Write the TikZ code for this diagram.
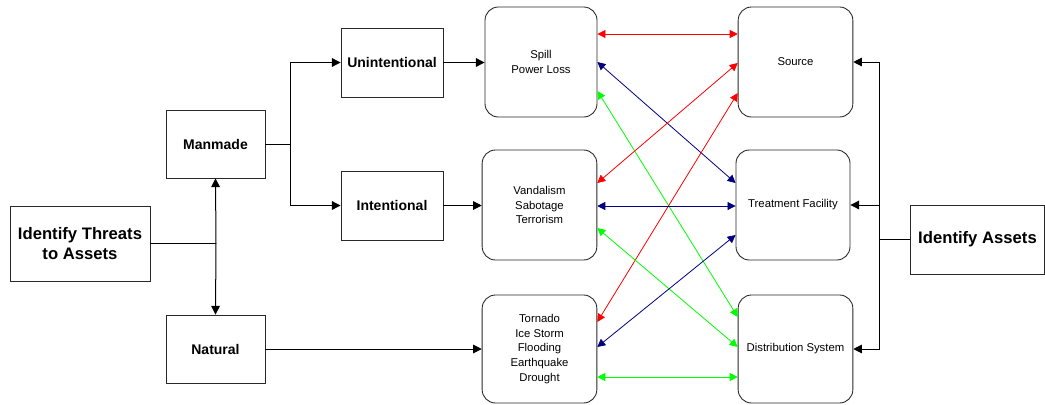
\documentclass[tikz,border=0pt]{standalone}
\usepackage{fontspec}
\setmainfont{Liberation Sans}
\usetikzlibrary{arrows.meta,calc}
\definecolor{cred}{RGB}{255,0,0}
\definecolor{cblue}{RGB}{0,0,128}
\definecolor{cgreen}{RGB}{0,255,0}
\definecolor{edge}{RGB}{40,40,40}
\begin{document}
\begin{tikzpicture}[x=0.75pt,y=-0.75pt,
  sbox/.style={draw=edge, line width=0.65pt, fill=white, inner sep=1pt, align=center, font=\bfseries\fontsize{10.5}{12}\selectfont},
  bigbox/.style={sbox, font=\bfseries\fontsize{12.5}{15}\selectfont},
  rbox/.style={draw=edge, line width=0.65pt, rounded corners=10pt, align=center, font=\fontsize{8.5}{11}\selectfont, minimum width=86pt, minimum height=82.5pt},
  conn/.style={line width=0.75pt, -{Triangle[length=6.5pt,width=6.5pt]}},
  plain/.style={line width=0.75pt},
  dbl/.style={line width=0.6pt, {Triangle[length=6pt,width=6pt]}-{Triangle[length=6pt,width=6pt]}},
]
\useasboundingbox (0,0) rectangle (1045,404);
% left side boxes
\node[bigbox, minimum width=105pt, minimum height=56.25pt] (threats) at (80,243.5) {Identify Threats\\to Assets};
\node[sbox, minimum width=74.25pt, minimum height=51pt] (manmade) at (215.5,144) {Manmade};
\node[sbox, minimum width=74.25pt, minimum height=51pt] (natural) at (215.5,349) {Natural};
\node[sbox, minimum width=76.5pt, minimum height=51.75pt] (unint) at (392,62.5) {Unintentional};
\node[sbox, minimum width=76.5pt, minimum height=51.75pt] (intent) at (392,205.5) {Intentional};
% threat rounded boxes
\node[rbox, minimum width=84pt] (spill) at (541,62) {Spill\\Power Loss};
\node[rbox] (vand) at (539.5,205) {Vandalism\\Sabotage\\Terrorism};
\node[rbox, minimum height=81pt] (torn) at (539.5,349) {Tornado\\Ice Storm\\Flooding\\Earthquake\\Drought};
% asset rounded boxes
\node[rbox] (source) at (795.5,62) {Source};
\node[rbox, minimum width=85.5pt] (treat) at (793,205) {Treatment Facility};
\node[rbox, minimum height=81pt] (dist) at (795.5,349) {Distribution System};
\node[bigbox, minimum width=100pt, minimum height=51.75pt] (assets) at (977.5,239.5) {Identify Assets};
% junction coordinates
\coordinate (j1) at (216,243.5);
\coordinate (j2) at (290,144);
\coordinate (j3) at (879,239.5);
% left connectors
\draw[plain] (threats.east) -- (j1);
\draw[conn] (j1) -- (manmade.south);
\draw[conn] (j1) -- (natural.north);
\draw[plain] (manmade.east) -- (j2);
\draw[conn] (j2) |- (unint.west);
\draw[conn] (j2) |- (intent.west);
\draw[conn] (unint.east) -- (unint.east -| spill.west);
\draw[conn] (intent.east) -- (intent.east -| vand.west);
\draw[conn] (natural.east) -- (natural.east -| torn.west);
% right connectors
\draw[plain] (assets.west) -- (j3);
\draw[conn] (j3) |- (source.east);
\draw[conn] (j3) |- (treat.east);
\draw[conn] (j3) |- (dist.east);
% coloured links
\draw[dbl, cred] ($(spill.east)+(0,-28)$) -- ($(source.west)+(0,-28)$);
\draw[dbl, cblue] (spill.east) -- ($(treat.west)+(0,-22)$);
\draw[dbl, cgreen] ($(spill.east)+(0,29)$) -- ($(dist.west)+(0,-32)$);
\draw[dbl, cred] ($(vand.east)+(0,-22)$) -- ($(source.west)+(0,1)$);
\draw[dbl, cred] ($(torn.east)+(0,-27)$) -- ($(source.west)+(0,31)$);
\draw[dbl, cblue] ($(vand.east)+(0,1)$) -- ($(treat.west)+(0,1)$);
\draw[dbl, cgreen] ($(vand.east)+(0,23)$) -- ($(dist.west)+(0,-2)$);
\draw[dbl, cblue] ($(torn.east)+(0,-2)$) -- ($(treat.west)+(0,30)$);
\draw[dbl, cgreen] ($(torn.east)+(0,28)$) -- ($(dist.west)+(0,28)$);
\end{tikzpicture}
\end{document}
